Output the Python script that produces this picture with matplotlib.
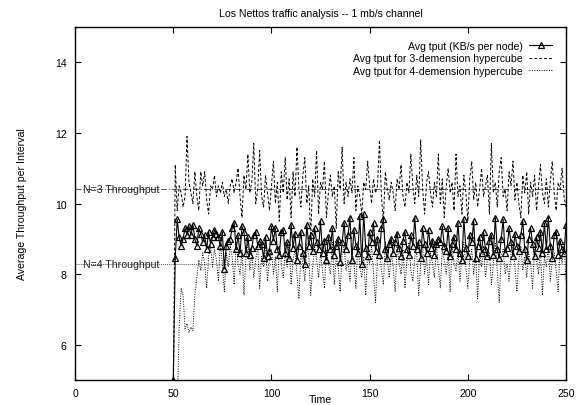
import numpy as np
import matplotlib
matplotlib.use("Agg")
import matplotlib.pyplot as plt

plt.rcParams['font.family'] = ['Liberation Sans', 'DejaVu Sans']

t_start = 50
t_end = 250

avg_tput = [
    5.0, 8.45, 9.55, 9.05, 8.8, 9.0, 9.3, 9.1, 9.35, 9.1,
    9.4, 9.0, 8.8, 9.3, 9.15, 8.9, 9.1, 8.7, 9.2, 8.85,
    9.05, 9.25, 9.15, 9.05, 8.8, 9.2, 8.15, 8.8, 8.95, 9.0,
    9.3, 9.45, 8.7, 9.1, 8.6, 9.35, 9.2, 8.6, 9.05, 8.55,
    8.75, 9.1, 9.2, 8.8, 8.95, 8.85, 8.45, 9.05, 8.5, 8.65,
    9.35, 8.95, 9.3, 8.7, 8.55, 9.2, 9.25, 8.6, 8.9, 8.45,
    9.4, 8.75, 9.15, 8.4, 8.8, 9.2, 8.6, 8.3, 9.4, 8.8,
    9.1, 8.65, 9.3, 8.9, 8.7, 9.5, 8.6, 8.95, 8.4, 9.05,
    8.7, 9.3, 8.55, 8.8, 9.0, 8.35, 8.9, 9.45, 8.7, 9.1,
    9.6, 8.4, 9.25, 8.8, 8.6, 9.65, 8.3, 9.7, 8.75, 8.5,
    9.2, 8.9, 9.45, 8.65, 9.0, 8.55, 9.3, 9.55, 8.7, 8.45,
    8.85, 9.0, 8.6, 8.9, 9.15, 8.75, 8.5, 8.95, 9.2, 8.7,
    8.55, 9.1, 8.8, 9.6, 8.7, 8.9, 8.45, 9.3, 8.85, 8.6,
    9.25, 8.75, 8.95, 8.55, 8.85, 9.0, 8.9, 9.35, 8.8, 8.65,
    9.3, 8.5, 8.85, 9.05, 8.7, 9.45, 8.6, 8.4, 9.55, 8.75,
    8.5, 9.1, 8.9, 9.5, 8.45, 8.8, 9.05, 8.6, 9.2, 8.7,
    8.5, 8.95, 9.1, 8.55, 9.6, 8.7, 8.45, 9.0, 9.55, 8.6,
    8.75, 9.3, 8.9, 8.5, 9.15, 8.8, 8.65, 9.1, 9.5, 8.7,
    8.4, 9.0, 9.3, 8.85, 8.5, 9.05, 8.75, 9.2, 8.6, 9.45,
    8.7, 9.6, 8.8, 8.45, 9.1, 9.2, 8.55, 8.95, 8.7, 8.6,
    9.4,
]

hyper3 = [
    4.0, 11.1, 9.8, 10.5, 10.3, 9.9, 10.2, 11.9, 10.6, 10.3,
    10.0, 10.9, 10.2, 9.8, 10.9, 10.5, 10.9, 10.1, 9.7, 10.5,
    10.4, 10.8, 10.2, 10.5, 10.3, 10.6, 10.2, 10.4, 10.0, 10.5,
    10.7, 10.3, 10.6, 11.0, 10.2, 9.6, 10.8, 10.4, 11.4, 10.3,
    10.6, 11.7, 10.0, 10.4, 11.5, 10.2, 9.9, 10.8, 10.3, 9.8,
    10.5, 11.2, 10.0, 10.6, 9.5, 10.9, 10.3, 11.3, 10.1, 10.7,
    9.6, 10.9, 10.2, 11.6, 10.4, 9.9, 10.8, 11.3, 10.0, 10.5,
    9.0, 10.7, 10.2, 11.5, 9.7, 10.6, 10.4, 11.2, 9.6, 10.3,
    10.8, 10.2, 10.5, 9.3, 10.9, 10.4, 11.6, 10.0, 10.6, 10.2,
    10.7, 10.3, 11.3, 9.8, 10.5, 10.2, 9.7, 10.6, 10.4, 11.2,
    10.5, 10.0, 10.7, 10.3, 10.5, 11.8, 10.2, 9.5, 10.9, 10.4,
    10.1, 10.6, 10.3, 9.8, 10.7, 10.4, 11.1, 10.2, 9.9, 10.6,
    10.3, 11.4, 10.5, 10.0, 10.8, 10.2, 11.8, 10.4, 9.7, 10.6,
    10.9, 10.3, 9.9, 10.6, 10.2, 11.4, 10.0, 10.7, 9.6, 10.5,
    11.0, 10.3, 10.6, 9.8, 11.4, 10.2, 10.5, 9.7, 10.8, 10.3,
    9.5, 10.7, 11.2, 10.1, 10.6, 9.9, 10.4, 11.0, 10.2, 10.5,
    10.8, 9.7, 11.7, 10.3, 10.6, 9.9, 10.9, 11.3, 10.2, 10.4,
    9.8, 10.9, 10.5, 11.2, 10.1, 10.6, 10.0, 9.6, 10.8, 10.3,
    10.9, 9.7, 10.6, 10.2, 10.8, 9.8, 10.5, 11.1, 10.3, 10.0,
    10.7, 9.9, 10.6, 11.2, 10.3, 9.8, 10.6, 10.4, 11.0, 10.2,
    9.9,
]

hyper4 = [
    4.0, 4.0, 4.0, 6.5, 7.6, 7.4, 6.45, 6.6, 6.35, 6.5,
    6.4, 7.4, 7.9, 8.4, 8.1, 8.6, 8.3, 7.6, 8.5, 8.8,
    8.2, 8.7, 8.4, 7.8, 8.9, 8.3, 7.5, 8.6, 8.2, 8.8,
    8.5, 7.7, 8.9, 8.3, 8.0, 8.7, 7.4, 8.5, 8.9, 8.1,
    8.6, 7.9, 8.4, 8.8, 7.6, 8.5, 8.2, 8.9, 7.8, 8.4,
    8.7, 8.0, 8.5, 7.5, 8.8, 8.3, 7.9, 8.6, 8.2, 8.9,
    7.7, 8.4, 8.7, 8.0, 7.3, 8.6, 8.3, 7.8, 8.9, 8.5,
    7.4, 8.2, 8.8, 8.4, 7.9, 8.6, 8.1, 7.6, 8.7, 8.3,
    8.0, 8.9, 7.7, 8.5, 8.2, 7.5, 8.6, 8.8, 8.1, 8.4,
    7.8, 8.7, 8.3, 7.6, 8.9, 8.2, 7.9, 8.5, 7.4, 8.6,
    8.3, 8.8, 8.0, 7.2, 8.5, 8.7, 8.1, 7.7, 8.9, 8.4,
    7.9, 8.6, 8.2, 7.5, 8.8, 8.3, 8.0, 8.7, 7.6, 8.4,
    8.9, 8.1, 7.8, 8.5, 8.6, 7.4, 8.3, 8.8, 8.0, 8.5,
    7.7, 8.6, 8.3, 7.9, 8.9, 8.2, 7.6, 8.7, 8.4, 8.0,
    8.6, 7.5, 8.8, 8.3, 8.1, 8.7, 7.8, 8.5, 8.9, 8.2,
    7.6, 8.4, 8.7, 8.0, 8.5, 7.3, 8.6, 8.2, 8.8, 7.9,
    8.4, 8.6, 7.7, 8.3, 8.9, 8.1, 7.2, 8.5, 8.7, 8.0,
    8.3, 7.8, 8.6, 8.9, 8.2, 7.5, 8.4, 8.8, 8.1, 8.5,
    7.9, 8.6, 8.3, 7.6, 8.8, 8.4, 8.0, 8.7, 7.4, 8.5,
    8.2, 8.8, 7.8, 8.4, 8.6, 8.1, 7.5, 8.7, 8.3, 8.9,
    7.8,
]

n3_throughput = 10.4
n4_throughput = 8.3

labels = ["Avg tput (KB/s per node)",
          "Avg tput for 3-demension hypercube",
          "Avg tput for 4-demension hypercube"]
xticks = [0, 50, 100, 150, 200, 250]
yticks = [6, 8, 10, 12, 14]

t = np.arange(t_start, t_end + 1)

fs = 7.6
fig = plt.figure(figsize=(5.82, 4.06), dpi=100)
ax = fig.add_axes([0.129, 0.0616, 0.8435, 0.8694])

ax.axhline(n3_throughput, color='#555555', lw=0.7, ls=(0, (6, 2, 1, 2)))
ax.axhline(n4_throughput, color='#555555', lw=0.7, ls=(0, (1, 1)))
ax.text(4, n3_throughput, "N=3 Throughput", fontsize=fs, va='center', ha='left', color='#222222')
ax.text(4, n4_throughput, "N=4 Throughput", fontsize=fs, va='center', ha='left', color='#222222')

ax.plot(t, avg_tput, color='black', lw=0.8, marker='^', ms=4.5, mfc='none', mec='black', mew=0.9,
        label=labels[0])
ax.plot(t, hyper3, color='black', lw=0.7, ls=(0, (3, 2)), label=labels[1])
ax.plot(t, hyper4, color='black', lw=0.7, ls=(0, (1, 1.5)), label=labels[2])

ax.set_xlim(0, 250)
ax.set_ylim(5, 15)
ax.set_xticks(xticks)
ax.set_yticks(yticks)
ax.tick_params(direction='in', top=True, right=True, labelsize=fs, length=4, width=0.8, pad=6)
for s in ax.spines.values():
    s.set_linewidth(1.0)

ax.set_title("Los Nettos traffic analysis -- 1 mb/s channel", fontsize=fs, pad=8)
ax.set_xlabel("Time", fontsize=fs, labelpad=-3)
ax.set_ylabel("Average Throughput per Interval", fontsize=fs, labelpad=20)

leg = ax.legend(loc='upper right', frameon=False, fontsize=fs, markerfirst=False,
                handlelength=2.2, labelspacing=0.25, borderaxespad=0.9, handletextpad=0.6)
for txt in leg.get_texts():
    txt.set_ha('right')
leg._legend_box.align = 'right'

fig.savefig("out.png", dpi=100)
